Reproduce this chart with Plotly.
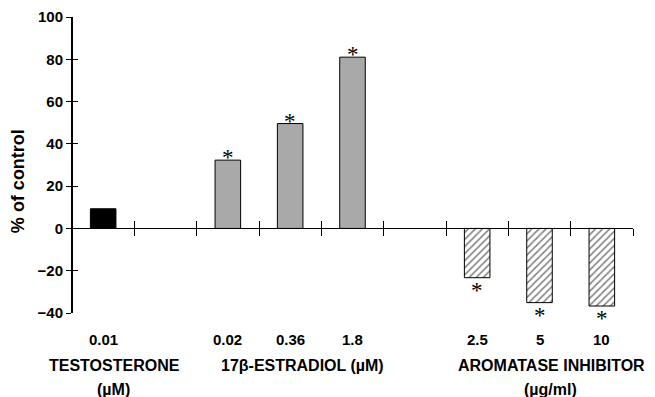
import plotly.graph_objects as go

# ---- data ----
testo_pos = [1]
testo_doses = ["0.01"]
testo_values = [9.3]

estr_pos = [3, 4, 5]
estr_doses = ["0.02", "0.36", "1.8"]
estr_values = [32.3, 49.6, 81.0]

ai_pos = [7, 8, 9]
ai_doses = ["2.5", "5", "10"]
ai_values = [-23.3, -35.1, -36.7]

group_pos = [1.18, 4.2, 8.2]
group_line1 = ["TESTOSTERONE", "17β-ESTRADIOL (µM)", "AROMATASE INHIBITOR"]
group_line2 = ["(µM)", "", "(µg/ml)"]

y_ticks = [-40, -20, 0, 20, 40, 60, 80, 100]
slot_edges = [0.5 + i for i in range(10)]

YMIN, YMAX = -40, 100
FONT = "Liberation Sans, Arial, sans-serif"

fig = go.Figure()

fig.add_trace(go.Bar(x=testo_pos, y=testo_values, width=0.41,
                     marker=dict(color="black", line=dict(color="black", width=1)),
                     showlegend=False))
fig.add_trace(go.Bar(x=estr_pos, y=estr_values, width=0.41,
                     marker=dict(color="#a0a0a0",
                                 pattern=dict(shape=".", fgcolor="#555555", bgcolor="#c0c0c0",
                                              size=2, solidity=0.5),
                                 line=dict(color="black", width=1)),
                     showlegend=False))
fig.add_trace(go.Bar(x=ai_pos, y=ai_values, width=0.41,
                     marker=dict(color="white",
                                 pattern=dict(shape="/", fgcolor="black", bgcolor="white",
                                              size=5, solidity=0.3),
                                 line=dict(color="black", width=1)),
                     showlegend=False))

# dummy trace for overlay axes (inside ticks)
fig.add_trace(go.Scatter(x=[None], y=[None], xaxis="x2", yaxis="y2", showlegend=False,
                         hoverinfo="skip"))

zero_pos = (0 - YMIN) / (YMAX - YMIN)

xcommon = dict(range=[0.5, 9.5], showgrid=False, zeroline=False, showline=True,
               linecolor="black", linewidth=1, tickvals=slot_edges, showticklabels=False,
               tickcolor="black", ticklen=7, tickwidth=1, anchor="free", position=zero_pos,
               automargin=False)
ycommon = dict(range=[YMIN, YMAX], showgrid=False, zeroline=False, showline=True,
               linecolor="black", linewidth=1, tickvals=y_ticks, tickcolor="black",
               ticklen=5, tickwidth=1, automargin=False)

# page body has an 8px margin; size the figure so the plot lands where the reference has it
fig.update_layout(
    width=647, height=389,
    margin=dict(l=64, r=22, t=9, b=84),
    paper_bgcolor="white", plot_bgcolor="white",
    barmode="overlay",
    font=dict(family=FONT, color="black"),
    xaxis=dict(**xcommon, ticks="outside"),
    xaxis2=dict(**xcommon, ticks="inside", overlaying="x"),
    yaxis=dict(**ycommon, ticks="outside",
               tickfont=dict(family=FONT, size=15, weight="bold", color="black")),
    yaxis2=dict(**ycommon, ticks="inside", overlaying="y", anchor="free", position=0,
                showticklabels=False),
)

annotations = []
# significance asterisks
for p, v in zip(estr_pos, estr_values):
    annotations.append(dict(x=p, y=v, xref="x", yref="y", text="*", showarrow=False,
                            xanchor="center", yanchor="middle", yshift=3, height=14,
                            font=dict(family="Liberation Serif, serif", size=23, color="black")))
for p, v in zip(ai_pos, ai_values):
    annotations.append(dict(x=p, y=v, xref="x", yref="y", text="*", showarrow=False,
                            xanchor="center", yanchor="middle", yshift=-12, height=14,
                            font=dict(family="Liberation Serif, serif", size=23, color="black")))
# dose labels
for p, d in zip(testo_pos + estr_pos + ai_pos, testo_doses + estr_doses + ai_doses):
    annotations.append(dict(x=p, y=-0.088, xref="x", yref="paper", text=d, showarrow=False,
                            xanchor="center", yanchor="middle",
                            font=dict(family=FONT, size=15, weight="bold", color="black")))
# group labels
for p, l1, l2 in zip(group_pos, group_line1, group_line2):
    annotations.append(dict(x=p, y=-0.179, xref="x", yref="paper", text=l1, showarrow=False,
                            xanchor="center", yanchor="middle",
                            font=dict(family=FONT, size=16, weight="bold", color="black")))
    if l2:
        annotations.append(dict(x=p - 0.02, y=-0.257, xref="x", yref="paper", text=l2,
                                showarrow=False, xanchor="center", yanchor="middle",
                                font=dict(family=FONT, size=16, weight="bold", color="black")))
# y axis title
annotations.append(dict(x=-0.096, y=0.446, xref="paper", yref="paper", text="% of control",
                        textangle=-90, showarrow=False, xanchor="center", yanchor="middle",
                        font=dict(family=FONT, size=18, weight="bold", color="black")))
fig.update_layout(annotations=annotations)

fig.write_html("out.html")
